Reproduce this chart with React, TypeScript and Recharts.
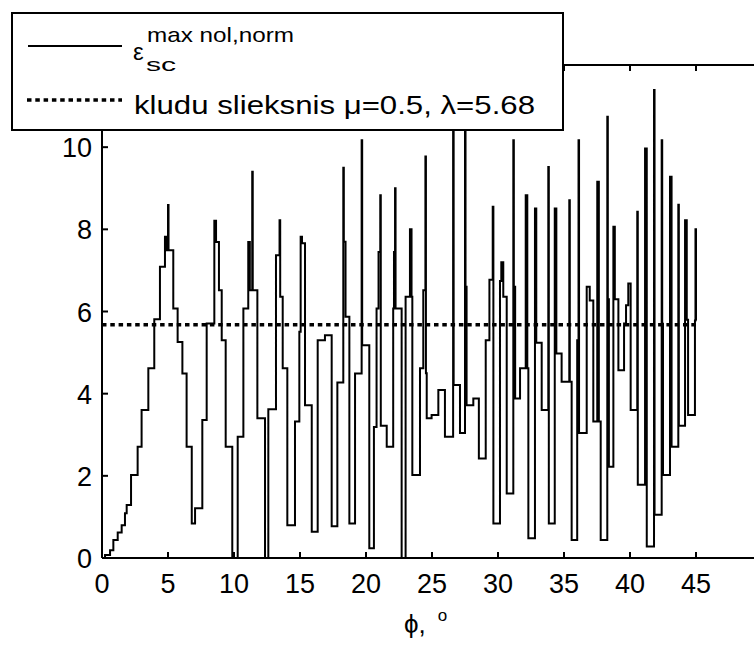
import React from 'react';
import { LineChart, Line, XAxis, YAxis, Legend } from 'recharts';

// stairs data (phi in degrees, value from phi onward)
const PHI = [
  0, 0.23, 0.61, 0.86, 1.19, 1.49, 1.74, 1.87, 2.2, 2.7, 3.0, 3.51, 3.96, 4.39, 4.77, 4.9, 5.0, 5.04, 5.4, 5.73,
  6.09, 6.41, 6.8, 7.05, 7.6, 7.93, 8.51, 8.64, 8.86, 9.07, 9.37, 9.87, 10.28, 10.71, 11.08, 11.2, 11.38, 11.42, 11.77, 12.35,
  12.6, 13.18, 13.45, 13.5, 13.69, 14.04, 14.62, 14.95, 15.05, 15.15, 15.38, 15.89, 16.34, 16.89, 17.4, 17.83, 18.28, 18.32, 18.45, 18.74,
  19.17, 19.67, 19.71, 20.25, 20.6, 20.8, 20.95, 21.08, 21.12, 21.57, 22.06, 22.12, 22.2, 22.24, 22.7, 23.0, 23.33, 23.45, 23.51, 24.09,
  24.34, 24.5, 24.54, 24.6, 24.97, 25.48, 25.98, 26.6, 26.64, 27.12, 27.5, 27.54, 27.62, 28.13, 28.55, 29.07, 29.35, 29.6, 29.65, 30.15,
  30.25, 30.4, 30.66, 31.16, 31.2, 31.3, 31.67, 32.1, 32.22, 32.3, 32.8, 32.9, 33.31, 33.81, 33.85, 34.3, 34.42, 34.82, 35.4, 35.44,
  35.58, 36.0, 36.1, 36.14, 36.72, 36.95, 37.22, 37.52, 37.64, 37.78, 38.28, 38.32, 38.4, 38.74, 38.85, 39.12, 39.55, 39.7, 39.87, 40.05,
  40.55, 40.59, 41.14, 41.27, 41.82, 41.86, 42.4, 42.44, 42.5, 43.03, 43.15, 43.66, 43.7, 44.17, 44.3, 44.4, 44.92, 44.96, 45.0,
];
const EPS = [
  0, 0.07, 0.19, 0.44, 0.62, 0.8, 1.09, 1.29, 2.02, 2.71, 3.6, 4.62, 5.81, 7.09, 7.82, 7.49, 8.59, 7.49, 6.07, 5.26,
  4.49, 2.71, 0.84, 1.21, 3.36, 5.71, 8.21, 7.69, 6.52, 5.3, 2.71, 0, 2.95, 6.07, 7.69, 6.52, 9.4, 6.52, 3.4, 0,
  3.62, 7.37, 8.22, 6.36, 4.62, 0.8, 3.32, 5.51, 7.82, 7.66, 3.72, 0.64, 5.3, 5.42, 0.77, 4.27, 9.5, 7.7, 5.87, 0.84,
  4.49, 10.17, 5.18, 0.24, 3.19, 6.07, 7.45, 8.83, 3.22, 2.71, 6.07, 7.45, 9.0, 6.07, 0, 6.36, 8.0, 6.36, 2.02, 4.62,
  6.52, 9.77, 4.5, 3.4, 3.48, 4.09, 2.95, 11.8, 4.21, 3.04, 11.8, 6.6, 3.72, 3.88, 2.42, 5.3, 6.77, 8.55, 0.84, 6.74,
  7.2, 6.36, 1.57, 10.17, 6.6, 3.88, 4.62, 8.83, 4.62, 0.48, 8.51, 5.24, 3.6, 9.52, 0.84, 8.51, 4.98, 4.29, 8.71, 4.29,
  0.44, 5.3, 10.17, 3.04, 6.6, 6.27, 3.32, 9.16, 3.32, 0.44, 10.74, 6.3, 2.22, 8.06, 6.3, 4.57, 5.71, 6.15, 6.68, 3.6,
  8.43, 1.78, 9.97, 0.28, 11.39, 1.05, 10.17, 5.7, 2.02, 9.28, 2.71, 8.6, 3.22, 8.22, 5.8, 3.48, 5.78, 8.0, 5.78,
];

const THRESHOLD_PHI = [0, 45];
const THRESHOLD = 5.68;

// the 50 tick sits just past the cropped right edge of the picture
const X_TICKS = [0, 5, 10, 15, 20, 25, 30, 35, 40, 45];
const Y_TICKS = [0, 2, 4, 6, 8, 10, 12];

const stairs = PHI.map((phi, i) => ({ phi, eps: EPS[i] }));
const threshold = THRESHOLD_PHI.map((phi) => ({ phi, thr: THRESHOLD }));

const FONT = '"Liberation Sans", Arial, Helvetica, sans-serif';

const BottomTick = ({ x, y, payload }: any) => (
  <g>
    <line x1={x} x2={x} y1={y} y2={y - 6} stroke="#000" strokeWidth={2} />
    <text x={x} y={y + 35} textAnchor="middle" fontSize={27} fontFamily={FONT} fill="#000">
      {payload.value}
    </text>
  </g>
);

const TopTick = ({ x, y }: any) => (
  <line x1={x} x2={x} y1={y} y2={y + 6} stroke="#000" strokeWidth={2} />
);

const LeftTick = ({ x, y, payload }: any) => (
  <g>
    <line x1={x} x2={x + 6} y1={y} y2={y} stroke="#000" strokeWidth={2} />
    <text x={x - 10} y={y + 10} textAnchor="end" fontSize={27} fontFamily={FONT} fill="#000">
      {payload.value}
    </text>
  </g>
);

const AxisTitle = ({ viewBox }: any) => {
  const cx = viewBox.x + viewBox.width / 2;
  const by = viewBox.y + 75;
  return (
    <text x={cx - 28} y={by} fontSize={26} fontFamily={FONT} fill="#000">
      ϕ,
      <tspan dx={12} dy={-12} fontSize={17}>o</tspan>
    </text>
  );
};

const LegendBox = () => (
  <svg width={553} height={119} style={{ display: 'block' }}>
    <rect x={1} y={1} width={551} height={117} fill="#fff" stroke="#000" strokeWidth={2} />
    <line x1={17} x2={111} y1={34} y2={34} stroke="#000" strokeWidth={2} />
    <text x={122} y={48} fontSize={24} fontFamily={FONT} fill="#000">ε</text>
    <text x={136} y={30} fontSize={21} fontFamily={FONT} fill="#000" textLength={147} lengthAdjust="spacingAndGlyphs">
      max nol,norm
    </text>
    <text x={135} y={59} fontSize={19} fontFamily={FONT} fill="#000" textLength={30} lengthAdjust="spacingAndGlyphs">
      sc
    </text>
    <line x1={16} x2={111} y1={88} y2={88} stroke="#000" strokeWidth={3.5} strokeDasharray="4.5 3.8" />
    <text x={123} y={102} fontSize={25} fontFamily={FONT} fill="#000" textLength={401} lengthAdjust="spacingAndGlyphs">
      kludu slieksnis μ=0.5, λ=5.68
    </text>
  </svg>
);

export default function App() {
  return (
    <div style={{ position: 'absolute', left: 0, top: 0, width: 754, height: 646, overflow: 'hidden', background: '#fff' }}>
      <LineChart width={800} height={646} margin={{ top: 0, right: 38, bottom: 0, left: 0 }}>
        <XAxis
          xAxisId="b"
          dataKey="phi"
          type="number"
          domain={[0, 50]}
          ticks={X_TICKS}
          interval={0}
          height={88}
          tickSize={0}
          tickMargin={0}
          allowDataOverflow
          axisLine={{ stroke: '#000', strokeWidth: 2 }}
          tick={<BottomTick />}
          label={<AxisTitle />}
        />
        <XAxis
          xAxisId="t"
          orientation="top"
          dataKey="phi"
          type="number"
          domain={[0, 50]}
          ticks={X_TICKS}
          interval={0}
          height={65}
          tickSize={0}
          tickMargin={0}
          allowDataOverflow
          axisLine={{ stroke: '#000', strokeWidth: 2 }}
          tick={<TopTick />}
        />
        <YAxis
          yAxisId="l"
          type="number"
          domain={[0, 12]}
          ticks={Y_TICKS}
          interval={0}
          width={102}
          tickSize={0}
          tickMargin={0}
          allowDataOverflow
          axisLine={{ stroke: '#000', strokeWidth: 2 }}
          tick={<LeftTick />}
        />
        <Line
          xAxisId="b"
          yAxisId="l"
          data={stairs}
          dataKey="eps"
          type="stepAfter"
          stroke="#000"
          strokeWidth={2}
          dot={false}
          activeDot={false}
          isAnimationActive={false}
        />
        <Line
          xAxisId="b"
          yAxisId="l"
          data={threshold}
          dataKey="thr"
          type="linear"
          stroke="#000"
          strokeWidth={3.5}
          strokeDasharray="4.5 3.8"
          dot={false}
          activeDot={false}
          isAnimationActive={false}
        />
        <Legend
          layout="vertical"
          align="center"
          verticalAlign="middle"
          content={() => <LegendBox />}
          wrapperStyle={{ left: 11, top: 12, width: 553, height: 119 }}
        />
      </LineChart>
    </div>
  );
}
